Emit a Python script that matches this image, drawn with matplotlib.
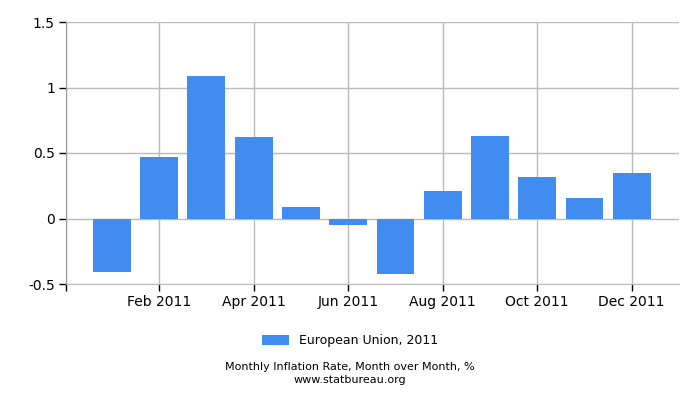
import matplotlib
matplotlib.use("Agg")
import matplotlib.pyplot as plt

# monthly values
months = [1, 2, 3, 4, 5, 6, 7, 8, 9, 10, 11, 12]
rates = [-0.41, 0.47, 1.09, 0.62, 0.09, -0.05, -0.42, 0.21, 0.63, 0.32, 0.16, 0.35]
tick_pos = [2, 4, 6, 8, 10, 12]
tick_labels = ["Feb 2011", "Apr 2011", "Jun 2011", "Aug 2011", "Oct 2011", "Dec 2011"]
y_ticks = [-0.5, 0, 0.5, 1, 1.5]
y_labels = ["-0.5", "0", "0.5", "1", "1.5"]

fig = plt.figure(figsize=(7, 4), dpi=100)
ax = fig.add_axes([0.0943, 0.29, 0.8757, 0.655])

ax.bar(months, rates, width=0.8, color="#418cf0", zorder=3, label="European Union, 2011")

ax.set_xlim(0.03, 13.0)
ax.set_ylim(-0.5, 1.5)
ax.set_xticks([0.03] + tick_pos)
ax.set_xticklabels([""] + tick_labels, fontsize=10)
ax.set_yticks(y_ticks)
ax.set_yticklabels(y_labels, fontsize=10)
ax.grid(True, color="#bbbbbb", linewidth=1, zorder=0)
for s in ["top", "right"]:
    ax.spines[s].set_visible(False)
ax.spines["left"].set_color("#999999")
ax.spines["bottom"].set_color("#bbbbbb")
ax.tick_params(length=5, width=1, color="black", pad=3)

fig.legend(loc="center", bbox_to_anchor=(0.5, 0.148), frameon=False, fontsize=9,
           handlelength=2.2, handleheight=0.9)
fig.text(0.5, 0.075, "Monthly Inflation Rate, Month over Month, %", ha="center", fontsize=8)
fig.text(0.5, 0.043, "www.statbureau.org", ha="center", fontsize=8)

fig.savefig("out.png", dpi=100)
